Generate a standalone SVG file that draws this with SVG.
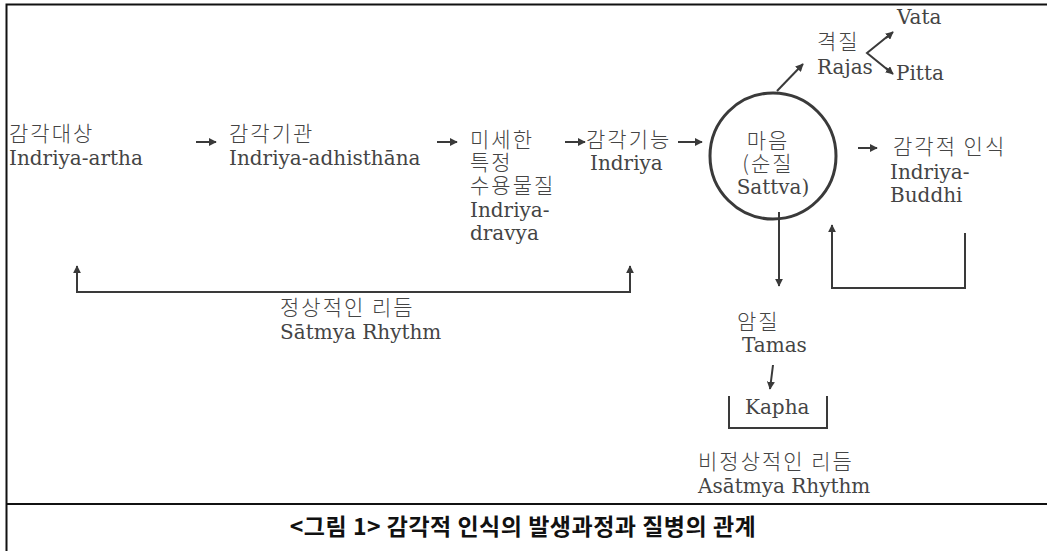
<svg xmlns="http://www.w3.org/2000/svg" width="1047" height="551" viewBox="0 0 1047 551">
<defs>
<marker id="ah" viewBox="0 0 10 10" refX="9" refY="5" markerWidth="8" markerHeight="8" markerUnits="userSpaceOnUse" orient="auto"><path d="M0,0 L10,5 L0,10 Z" fill="#3a3a3a"/></marker>
</defs>
<style>
text{font-family:"DejaVu Serif","Noto Sans CJK KR",serif;font-size:20px;fill:#444}
.k{font-family:"Noto Sans CJK KR",sans-serif;font-size:21px;letter-spacing:2px;font-weight:300}
.c{text-anchor:middle}
.cap{font-family:"Noto Sans CJK KR","Noto Sans",sans-serif;font-weight:700;font-size:23px;fill:#111;letter-spacing:0.5px}
.ln{stroke:#3a3a3a;stroke-width:2;fill:none}
.ar{stroke:#3a3a3a;stroke-width:2;fill:none;marker-end:url(#ah)}
.fr{stroke:#111;stroke-width:2;fill:none}
</style>
<rect width="1047" height="551" fill="#fff"/>
<g id="frame">
<path class="fr" d="M1047,4.5 H6.5 V551"/>
<path class="fr" d="M6.5,504 H1047"/>
</g>
<g id="connectors">
<line class="ar" x1="196" y1="142" x2="216" y2="142"/>
<line class="ar" x1="437" y1="142" x2="457" y2="142"/>
<line class="ar" x1="565" y1="142" x2="585" y2="142"/>
<line class="ar" x1="678" y1="142" x2="702" y2="142"/>
<line class="ar" x1="777" y1="91" x2="803" y2="64"/>
<path class="ln" d="M888,36 L867,53 L888,70"/>
<line class="ar" x1="886" y1="38" x2="893" y2="32"/>
<line class="ar" x1="886" y1="68" x2="893" y2="74"/>
<line class="ar" x1="858" y1="148" x2="877" y2="148"/>
<line class="ar" x1="779" y1="212" x2="779" y2="286"/>
<path class="ln" d="M965,233 V288 H832 V232"/>
<line class="ar" x1="832" y1="240" x2="832" y2="225"/>
<path class="ln" d="M77,280 V292 H630 V280"/>
<line class="ar" x1="77" y1="282" x2="77" y2="266"/>
<line class="ar" x1="630" y1="282" x2="630" y2="266"/>
<line class="ar" x1="773" y1="365" x2="770" y2="389"/>
<path class="ln" d="M729,396 V428 H827 V396"/>
</g>
<g id="n-artha"><text class="k" x="9" y="141">감각대상</text><text x="9" y="165">Indriya-artha</text></g>
<g id="n-adhisthana"><text class="k" x="229" y="141">감각기관</text><text x="229" y="165">Indriya-adhisthāna</text></g>
<g id="n-dravya"><text class="k" x="470" y="147">미세한</text><text class="k" x="470" y="170">특정</text><text class="k" x="470" y="193">수용물질</text><text x="470" y="217">Indriya-</text><text x="470" y="240">dravya</text></g>
<g id="n-indriya"><text class="k" x="586" y="147">감각기능</text><text x="590" y="170">Indriya</text></g>
<g id="n-mind"><circle cx="773" cy="156" r="63" fill="none" stroke="#3a3a3a" stroke-width="3"/><text class="k c" x="768" y="148">마음</text><text class="k c" x="768" y="171">(순질</text><text class="c" x="773" y="194">Sattva)</text></g>
<g id="n-rajas"><text class="k" x="817" y="49">격질</text><text x="817" y="74">Rajas</text></g>
<g id="n-vata"><text x="897" y="24">Vata</text></g>
<g id="n-pitta"><text x="896" y="80">Pitta</text></g>
<g id="n-buddhi"><text class="k" x="893" y="154">감각적 인식</text><text x="890" y="179">Indriya-</text><text x="890" y="202">Buddhi</text></g>
<g id="n-satmya"><text class="k" x="280" y="315">정상적인 리듬</text><text x="280" y="339">Sātmya Rhythm</text></g>
<g id="n-tamas"><text class="k" x="737" y="329">암질</text><text x="742" y="352">Tamas</text></g>
<g id="n-kapha"><text x="745" y="414">Kapha</text></g>
<g id="n-asatmya"><text class="k" x="698" y="469">비정상적인 리듬</text><text x="698" y="493">Asātmya Rhythm</text></g>
<g id="caption"><text class="cap c" x="523" y="535">&lt;그림 1&gt; 감각적 인식의 발생과정과 질병의 관계</text></g>
</svg>
